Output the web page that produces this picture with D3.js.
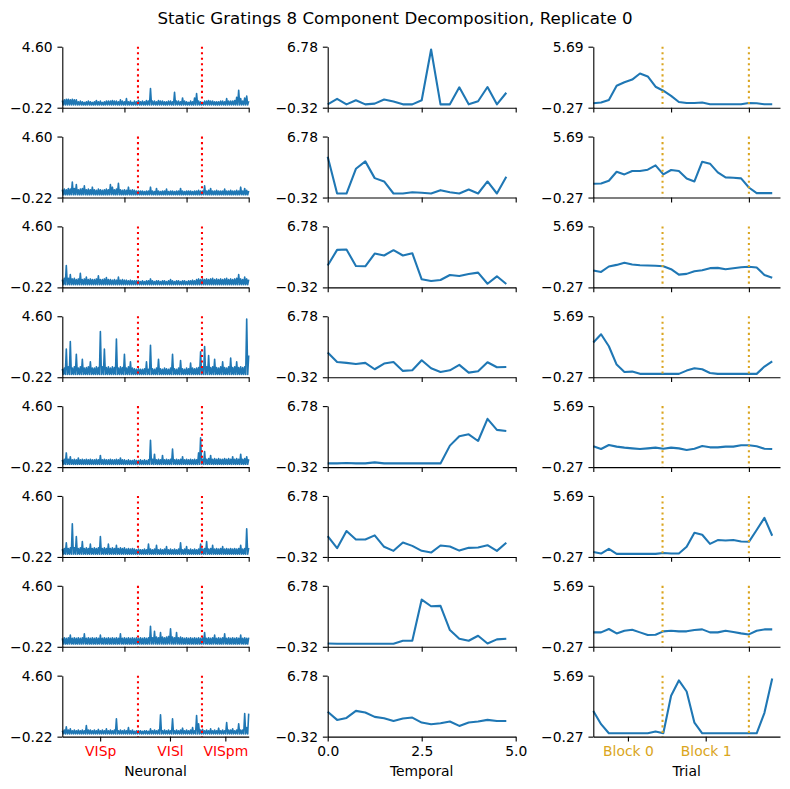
<!DOCTYPE html>
<html><head><meta charset="utf-8">
<script src="https://cdn.jsdelivr.net/npm/d3@7"></script>
<style>body{margin:0;background:#fff} svg{display:block} text{font-family:"DejaVu Sans",sans-serif}</style>
</head><body><svg id="chart" width="790" height="789"></svg>
<script>
const title = "Static Gratings 8 Component Decomposition, Replicate 0";
const colLabels = ["Neuronal", "Temporal", "Trial"];
const neuronTicks = [0, 500, 1000, 1500];
const neuronDomain = [0, 1500];
const regionNames = ["VISp", "VISl", "VISpm"];
const regionBounds = [0, 609, 1124, 1500];
const timePoints = [0, 0.25, 0.5, 0.75, 1, 1.25, 1.5, 1.75, 2, 2.25, 2.5, 2.75, 3, 3.25, 3.5, 3.75, 4, 4.25, 4.5, 4.75];
const timeTicks = [0, 2.5, 5.0];
const trialPoints = [0,1,2,3,4,5,6,7,8,9,10,11,12,13,14,15,16,17,18,19,20,21,22,23];
const trialTicks = [0, 10, 20];
const trialDomain = [0, 24];
const blockNames = ["Block 0", "Block 1"];
const blockBounds = [0, 8.9, 20.0];
const neuronalRange = [-0.22, 4.60];
const temporalRange = [-0.32, 6.78];
const trialRange = [-0.27, 5.69];

// Neuronal factors: peak loading within each of 94 consecutive neuron bins (min of every bin ~0)
const neuronal1 = [0.35,0.4,0.45,0.45,0.4,0.45,0.4,0.4, 0.25,0.3,0.25,0.2,0.25,0.3,0.25,0.2, 0.25,0.35,0.25,0.3,0.2,0.25,0.3,0.3, 0.3,0.35,0.3,0.3,0.25,0.4,0.3,0.25,
  0.5,0.25,0.3,0.2,0.3,0.25,0.35,0.25, 0.3,0.25,0.35,0.3,1.3,0.3,0.3,0.25, 0.35,0.3,0.3,0.25,0.25,0.3,0.3,0.25, 1.0,0.3,0.3,0.25,0.55,0.3,0.25,0.2,
  0.3,0.25,0.55,0.9,0.3,0.25,0.2,0.3, 0.3,0.35,0.3,0.3,0.25,0.25,0.25,0.3, 0.3,0.25,0.5,0.3,0.3,0.3,0.35,0.6, 1.15,0.5,0.3,0.55,0.7,0.3];
const neuronal2 = [0.4,0.45,0.4,0.5,0.45,1.0,0.5,0.8, 0.4,0.45,0.5,0.7,0.4,0.45,0.4,0.6, 0.4,0.35,0.45,0.4,0.35,0.4,0.45,0.4, 0.8,0.6,0.4,0.45,0.9,0.4,0.35,0.4,
  0.35,0.6,0.35,0.4,0.35,0.3,0.3,0.3, 0.3,0.25,0.3,0.3,0.6,0.3,0.25,0.5, 0.3,0.25,0.3,0.3,0.45,0.25,0.3,0.3, 0.25,0.3,0.3,0.5,0.3,0.25,0.3,0.3,
  0.3,0.25,0.3,0.3,0.35,0.3,0.3,0.7, 0.3,0.35,0.5,0.3,0.3,0.35,0.3,0.3, 0.3,0.45,0.3,0.3,0.35,0.3,0.3,0.35, 0.3,0.6,0.3,0.5,0.35,0.3];
const neuronal3 = [0.4,0.5,1.5,0.5,0.8,0.45,0.5,0.4, 0.45,0.9,0.4,0.45,0.6,0.4,0.45,0.4, 0.4,0.45,0.7,0.4,0.4,0.45,0.55,0.4, 0.4,0.35,0.4,0.35,0.6,0.35,0.4,0.35,
  0.35,0.3,0.35,0.3,0.3,0.3,0.3,0.25, 0.3,0.25,0.3,0.3,0.45,0.3,0.25,0.3, 0.3,0.25,0.3,0.3,0.25,0.3,0.4,0.3, 0.25,0.3,0.3,0.25,0.3,0.3,0.25,0.3,
  0.3,0.35,0.3,0.4,0.45,0.4,0.45,0.4, 0.45,0.4,0.45,0.5,0.4,0.45,0.4,0.45, 0.4,0.45,0.5,0.4,0.45,0.4,0.45,0.5, 0.8,0.45,0.4,0.6,0.45,0.4];
const neuronal4 = [0.45,0.5,2.0,0.6,2.6,0.5,0.6,1.6, 0.5,0.6,1.2,0.5,0.55,0.6,1.0,0.5, 0.5,0.6,0.55,3.4,0.6,2.0,0.55,0.6, 0.5,0.6,0.55,2.8,0.5,0.6,0.55,1.6,
  0.5,0.6,1.0,0.5,0.45,0.4,0.45,0.4, 0.4,0.45,1.0,0.4,2.3,0.45,0.4,0.5, 1.2,0.45,0.4,0.5,0.45,0.4,0.5,1.6, 0.45,0.4,0.5,1.1,0.45,0.4,0.5,0.45,
  0.9,0.5,0.45,0.5,0.55,1.8,0.6,2.2, 0.6,1.5,0.55,0.6,1.2,0.55,0.5,0.6, 1.0,0.55,0.5,0.6,1.3,0.55,0.6,1.0, 0.55,0.6,0.55,0.6,4.38,1.5];
const neuronal5 = [0.35,0.4,0.9,0.4,0.6,0.35,0.4,0.35, 0.5,0.35,0.4,0.35,0.4,0.35,0.4,0.35, 0.35,0.4,0.35,0.7,0.35,0.4,0.35,0.35, 0.4,0.35,0.35,0.4,0.35,0.5,0.35,0.35,
  0.3,0.35,0.3,0.3,0.35,0.3,0.3,0.35, 0.3,0.35,0.3,0.35,1.9,0.4,0.8,0.35, 0.4,0.35,0.7,0.35,0.4,0.35,0.4,1.2, 0.35,0.4,0.35,0.4,0.6,0.35,0.4,0.35,
  0.4,0.35,0.4,0.35,0.9,2.1,0.4,1.0, 0.4,0.45,0.7,0.4,0.45,0.4,0.45,0.4, 0.4,0.45,0.4,0.45,0.4,0.6,0.4,0.45, 0.4,0.8,0.4,0.45,0.6,0.4];
const neuronal6 = [0.4,0.45,0.9,0.45,0.5,2.4,0.5,1.4, 0.45,0.5,1.0,0.45,0.5,0.45,0.8,0.45, 0.5,0.45,0.5,1.4,0.45,0.5,0.45,0.8, 0.45,0.5,0.45,0.7,0.45,0.5,0.45,0.5,
  0.4,0.45,0.4,0.45,0.4,0.35,0.4,0.35, 0.35,0.4,0.35,0.8,0.4,0.35,0.4,0.7, 0.35,0.4,0.35,0.4,0.6,0.35,0.4,0.35, 0.4,0.35,0.4,0.9,0.35,0.4,0.6,0.35,
  0.4,0.35,0.4,0.35,0.4,0.8,0.4,0.45, 1.0,0.4,0.45,0.7,0.4,0.45,0.4,0.45, 0.6,0.4,0.45,0.4,0.45,0.4,0.45,0.4, 0.45,0.7,0.4,0.45,2.0,0.5];
const neuronal7 = [0.45,0.5,0.45,0.5,0.7,0.45,0.5,0.45, 0.5,0.45,0.5,0.8,0.45,0.5,0.45,0.5, 0.45,0.5,0.45,0.7,0.45,0.5,0.45,0.5, 0.45,0.5,0.45,0.5,0.45,0.8,0.45,0.5,
  0.45,0.5,0.45,0.5,0.45,0.5,0.45,0.5, 0.45,0.5,0.45,0.5,1.4,0.5,1.0,0.55, 0.5,0.9,0.55,0.5,0.55,0.6,1.2,0.55, 0.5,0.9,0.5,0.55,0.5,0.45,0.5,0.45,
  0.5,0.45,0.5,0.45,0.5,0.45,0.5,0.9, 0.45,0.5,0.45,0.5,0.7,0.45,0.5,0.45, 0.5,0.8,0.45,0.5,0.45,0.5,0.45,0.5, 0.45,0.7,0.45,0.5,0.45,0.5];
const neuronal8 = [0.25,0.3,0.55,0.3,0.4,0.25,0.3,0.25, 0.3,0.25,0.3,0.25,0.65,0.3,0.3,0.25, 0.3,0.25,0.35,0.25,0.3,0.25,0.4,0.25, 0.3,0.25,0.3,1.2,0.25,0.3,0.25,0.3,
  0.25,0.5,0.25,0.3,0.2,0.25,0.25,0.25, 0.2,0.25,0.25,0.2,0.4,0.25,0.3,0.25, 0.3,1.5,0.25,0.3,0.25,0.3,0.25,1.2, 0.25,0.3,0.25,0.3,0.45,0.25,0.3,0.25,
  0.3,0.5,0.25,1.45,0.8,0.3,0.35,0.25, 0.3,0.25,0.4,0.25,0.3,0.25,0.45,0.25, 0.3,0.25,0.9,0.3,0.3,0.4,0.25,0.3, 0.8,0.3,0.3,1.6,0.5,1.6];

// Temporal factors
const temporal1 = [0.07,0.71,0.07,0.55,0.07,0.15,0.63,0.39,0.07,0.07,0.55,6.45,0.07,0.07,2.05,0.07,0.43,2.09,0.07,1.42];
const temporal2 = [4.44,0.15,0.15,3.03,3.89,1.94,1.55,0.15,0.15,0.30,0.23,0.15,0.54,0.30,0.15,0.62,0.15,1.55,0.15,2.10];
const temporal3 = [2.22,4.05,4.09,2.18,2.14,3.62,3.39,4.01,3.39,3.66,0.62,0.42,0.54,1.12,1.01,1.24,1.40,0.11,0.97,0.07];
const temporal4 = [2.55,1.46,1.35,1.23,1.35,0.61,1.27,1.46,0.42,0.49,1.66,0.73,0.30,0.49,1.12,0.22,0.38,1.43,0.84,0.88];
const temporal5 = [0.11,0.11,0.15,0.11,0.11,0.23,0.11,0.11,0.11,0.11,0.11,0.11,0.11,2.18,3.27,3.50,2.72,5.30,4.01,3.89];
const temporal6 = [2.11,0.70,2.70,1.72,1.72,2.19,0.86,0.39,1.37,0.97,0.39,0.19,1.01,0.90,0.42,0.74,0.78,1.05,0.39,1.33];
const temporal7 = [0.07,0.03,0.03,0.03,0.03,0.03,0.03,0.03,0.38,0.38,5.18,4.40,4.44,1.63,0.62,0.38,0.97,0.07,0.54,0.62];
const temporal8 = [2.57,1.63,1.86,2.68,2.49,1.98,1.83,1.51,1.79,1.90,1.32,1.12,1.24,1.44,0.93,1.32,1.44,1.63,1.51,1.51];

// Trial factors
const trial1 = [0.16,0.23,0.49,1.88,2.21,2.48,3.07,2.78,1.78,1.39,0.89,0.29,0.19,0.19,0.23,0.06,0.06,0.06,0.06,0.06,0.19,0.16,0.06,0.06];
const trial2 = [1.07,1.11,1.37,2.25,1.99,2.32,2.32,2.45,2.87,1.99,2.42,2.32,1.60,1.30,3.23,3.04,2.19,1.70,1.66,1.60,0.71,0.16,0.16,0.16];
const trial3 = [1.38,1.24,1.77,1.93,2.13,1.97,1.90,1.87,1.84,1.80,1.51,0.98,1.05,1.31,1.41,1.61,1.64,1.51,1.61,1.70,1.74,1.67,0.95,0.68];
const trial4 = [3.12,3.93,2.76,0.97,0.25,0.28,0.06,0.06,0.06,0.06,0.06,0.06,0.38,0.61,0.51,0.15,0.06,0.06,0.06,0.06,0.06,0.06,0.77,1.29];
const trial5 = [1.76,1.50,1.89,1.73,1.63,1.56,1.50,1.56,1.63,1.53,1.63,1.56,1.40,1.53,1.79,1.66,1.66,1.73,1.73,1.86,1.86,1.76,1.53,1.50];
const trial6 = [0.22,0.06,0.52,0.03,0.03,0.03,0.03,0.03,0.03,0.12,0.06,0.06,0.72,2.10,1.90,1.01,1.38,1.34,1.38,1.24,1.21,2.36,3.55,1.80];
const trial7 = [1.14,1.14,1.47,1.04,1.30,1.40,1.14,0.88,0.91,1.24,1.30,1.24,1.24,1.37,1.43,1.14,1.14,1.30,1.17,1.04,0.94,1.30,1.43,1.43];
const trial8 = [2.23,0.95,0.06,0.06,0.06,0.06,0.06,0.06,0.24,0.06,3.72,5.22,4.14,1.10,0.06,0.06,0.06,0.06,0.06,0.06,0.06,0.06,2.06,5.42];

const neuronalRows = [neuronal1, neuronal2, neuronal3, neuronal4, neuronal5, neuronal6, neuronal7, neuronal8];
const temporalRows = [temporal1, temporal2, temporal3, temporal4, temporal5, temporal6, temporal7, temporal8];
const trialRows = [trial1, trial2, trial3, trial4, trial5, trial6, trial7, trial8];

// ---- layout ----
const W = 790, H = 789;
const FS = 13.89;
const tickLen = 4.86, tickPad = 4.86;
const colX = [[62.3, 248.7], [327.7, 515.7], [593.3, 780]];
const rowTop0 = 46.7, rowStep = 89.85, rowH = 61;
const lineColor = "#1f77b4";
const dotted = "2.08,3.44";
const fmt = v => (v < 0 ? "\u2212" : "") + Math.abs(v).toFixed(2);

const svg = d3.select("#chart");
svg.append("rect").attr("width", W).attr("height", H).attr("fill", "#fff");
svg.append("text").attr("x", 395).attr("y", 24).attr("text-anchor", "middle")
  .attr("font-size", 16.67).attr("fill", "#000").text(title);

function styleAxis(g) {
  g.attr("font-family", "DejaVu Sans, sans-serif").attr("font-size", FS);
  g.selectAll("path.domain").attr("stroke", "#000").attr("stroke-width", 1.11);
  g.selectAll(".tick line").attr("stroke", "#000").attr("stroke-width", 1.11);
  g.selectAll(".tick text").attr("fill", "#000");
}

function drawPanel(r, c) {
  const top = rowTop0 + rowStep * r, bottom = top + rowH;
  const [x0, x1] = colX[c];
  const last = r === 7;
  let x, yDom, xs, ys, xTicks, xTickFmt, tickColor = "#000", vlines = [], vcolor = null, pts;
  if (c === 0) {
    ys = neuronalRows[r];
    x = d3.scaleLinear().domain(neuronDomain).range([x0, x1]);
    xs = ys.map((_, i) => neuronDomain[1] * i / (ys.length - 1));
    yDom = neuronalRange;
    // dense neuron trace: each bin spans from its minimum (0) to its peak loading
    pts = [];
    ys.forEach((v, i) => {
      pts.push([xs[i], v]);
      if (i < ys.length - 1) pts.push([(xs[i] + xs[i + 1]) / 2, 0]);
    });
    vlines = regionBounds.slice(1, 3); vcolor = "red";
    if (last) {
      xTicks = regionNames.map((_, i) => (regionBounds[i] + regionBounds[i + 1]) / 2);
      xTickFmt = (d, i) => regionNames[i]; tickColor = "red";
    } else { xTicks = neuronTicks; xTickFmt = () => ""; }
  } else if (c === 1) {
    ys = temporalRows[r];
    x = d3.scaleLinear().domain([timeTicks[0], timeTicks[2]]).range([x0, x1]);
    xs = timePoints; yDom = temporalRange; xTicks = timeTicks;
    pts = ys.map((v, i) => [xs[i], v]);
    xTickFmt = last ? (d => d.toFixed(1)) : (() => "");
  } else {
    ys = trialRows[r];
    x = d3.scaleLinear().domain(trialDomain).range([x0, x1]);
    xs = trialPoints; yDom = trialRange;
    pts = ys.map((v, i) => [xs[i], v]);
    vlines = blockBounds.slice(1); vcolor = "goldenrod";
    if (last) {
      xTicks = blockNames.map((_, i) => (blockBounds[i] + blockBounds[i + 1]) / 2);
      xTickFmt = (d, i) => blockNames[i]; tickColor = "goldenrod";
    } else { xTicks = trialTicks; xTickFmt = () => ""; }
  }
  const y = d3.scaleLinear().domain(yDom).range([bottom, top]);
  const g = svg.append("g");
  g.append("path").datum(pts)
    .attr("d", d3.line().x(d => x(d[0])).y(d => y(d[1])))
    .attr("fill", "none").attr("stroke", lineColor)
    .attr("stroke-width", c === 0 ? 1.6 : 2.08)
    .attr("stroke-linejoin", "round");
  vlines.forEach(v => {
    g.append("line").attr("x1", x(v)).attr("x2", x(v)).attr("y1", top).attr("y2", bottom)
      .attr("stroke", vcolor).attr("stroke-width", 2.08).attr("stroke-dasharray", dotted);
  });
  const ya = g.append("g").attr("transform", `translate(${x0},0)`)
    .call(d3.axisLeft(y).tickValues(yDom).tickFormat(fmt).tickSize(tickLen).tickPadding(tickPad).tickSizeOuter(0));
  styleAxis(ya);
  const xa = g.append("g").attr("transform", `translate(0,${bottom})`)
    .call(d3.axisBottom(x).tickValues(xTicks).tickFormat(xTickFmt).tickSize(tickLen).tickPadding(tickPad).tickSizeOuter(0));
  styleAxis(xa);
  xa.selectAll(".tick text").attr("fill", tickColor);
  if (last) {
    g.append("text").attr("x", (x0 + x1) / 2).attr("y", 776).attr("text-anchor", "middle")
      .attr("font-size", FS).attr("fill", "#000").text(colLabels[c]);
  }
}

for (let r = 0; r < 8; r++) for (let c = 0; c < 3; c++) drawPanel(r, c);
</script></body></html>
